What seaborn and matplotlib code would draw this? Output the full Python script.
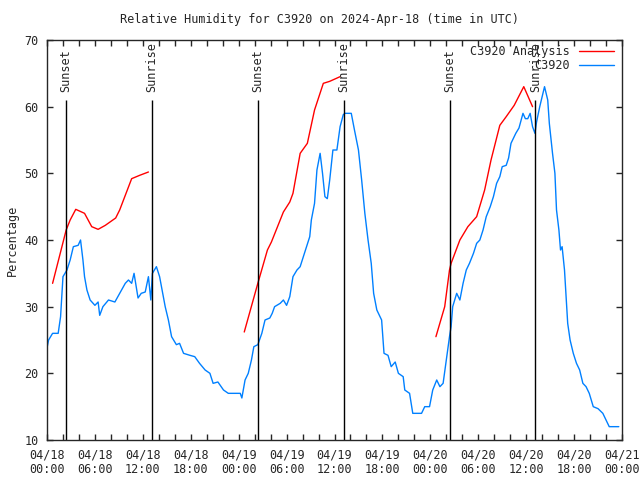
import matplotlib
matplotlib.use("Agg")
import matplotlib.pyplot as plt
import matplotlib.dates as mdates
from matplotlib.lines import Line2D
import seaborn as sns
import numpy as np
import pandas as pd

# hours since 2024-04-18 00:00 UTC and relative humidity (%)
obs_hours = [0.0, 0.2, 0.7, 1.4, 1.7, 2.0, 2.5, 2.9, 3.3, 3.9, 4.2, 4.5, 4.7, 5.0, 5.4, 6.0,
             6.4, 6.6, 7.0, 7.7, 8.5, 9.1, 9.8, 10.2, 10.6, 10.9, 11.4, 11.8, 12.3, 12.7,
             13.0, 13.2, 13.7, 14.1, 14.8, 15.2, 15.6, 16.2, 16.6, 17.1, 17.9, 18.5, 19.1,
             19.8, 20.4, 20.8, 21.4, 22.1, 22.7, 24.2, 24.4, 24.8, 25.2, 25.6, 25.9, 26.4,
             26.9, 27.3, 27.9, 28.2, 28.5, 29.2, 29.6, 30.0, 30.4, 30.8, 31.3, 31.7, 32.1,
             32.5, 32.9, 33.1, 33.5, 33.8, 34.2, 34.5, 34.8, 35.1, 35.4, 35.8, 36.3, 36.7,
             37.1, 37.3, 38.1, 38.5, 39.0, 39.4, 39.8, 40.2, 40.6, 40.9, 41.3, 41.9, 42.2,
             42.7, 43.1, 43.6, 44.0, 44.6, 44.8, 45.4, 45.8, 46.9, 47.3, 47.9, 48.3, 48.8,
             49.2, 49.6, 50.0, 50.4, 50.6, 50.8, 51.3, 51.7, 52.1, 52.5, 52.9, 53.4, 53.8,
             54.2, 54.6, 55.0, 55.5, 55.9, 56.3, 56.7, 57.0, 57.5, 57.8, 58.1, 58.7, 59.1,
             59.6, 59.9, 60.2, 60.5, 60.8, 61.1, 61.3, 61.7, 62.0, 62.3, 62.7, 62.9, 63.3,
             63.6, 63.8, 64.1, 64.3, 64.5, 64.8, 65.0, 65.2, 65.5, 65.9, 66.3, 66.7, 67.1,
             67.5, 67.9, 68.4, 69.0, 69.6, 70.0, 70.4, 71.6]
obs_rh = [23.8, 25.0, 26.0, 26.0, 28.5, 34.5, 35.5, 37.0, 39.0, 39.2, 40.0, 37.0, 34.5, 32.5,
          31.0, 30.2, 30.7, 28.7, 30.0, 31.0, 30.7, 32.0, 33.5, 34.0, 33.5, 35.0, 31.3, 32.0,
          32.2, 34.5, 31.0, 35.0, 36.0, 34.5, 30.0, 28.0, 25.5, 24.3, 24.5, 23.0, 22.7, 22.5,
          21.5, 20.5, 20.0, 18.5, 18.7, 17.5, 17.0, 17.0, 16.3, 19.0, 20.0, 22.0, 24.0, 24.3,
          26.0, 28.0, 28.3, 29.0, 30.0, 30.5, 31.0, 30.2, 31.5, 34.5, 35.5, 36.0, 37.5, 39.0,
          40.5, 43.0, 45.5, 50.5, 53.0, 50.0, 46.5, 46.2, 49.0, 53.5, 53.5, 57.0, 58.8, 59.0,
          59.0, 56.5, 53.5, 49.0, 44.0, 40.0, 36.5, 32.0, 29.5, 28.0, 23.0, 22.7, 21.0, 21.7,
          20.0, 19.5, 17.5, 17.0, 14.0, 14.0, 15.0, 15.0, 17.5, 19.0, 18.0, 18.5, 22.0, 25.5,
          27.0, 30.0, 32.0, 31.0, 33.5, 35.5, 36.5, 38.0, 39.5, 40.0, 41.5, 43.5, 45.0, 46.5,
          48.5, 49.5, 51.0, 51.2, 52.3, 54.5, 56.0, 56.8, 59.0, 58.2, 58.2, 59.0, 57.0, 56.0,
          57.7, 60.0, 61.5, 63.0, 61.0, 57.5, 53.0, 50.0, 44.5, 41.5, 38.5, 39.0, 35.5, 31.5,
          27.5, 25.0, 23.0, 21.5, 20.5, 18.5, 18.0, 17.0, 15.0, 14.7, 14.0, 13.0, 12.0, 12.0]

# analysis, one segment per day
ana_seg = [0] * 13 + [1] * 13 + [2] * 14
ana_hours = [0.7, 2.4, 2.9, 3.6, 4.7, 5.6, 6.4, 7.3, 8.6, 9.1, 10.6, 11.6, 12.7,
             24.7, 26.4, 27.6, 28.1, 29.6, 30.4, 30.8, 31.7, 32.6, 33.5, 34.6, 35.4, 36.7,
             48.7, 49.8, 50.4, 50.6, 51.7, 52.7, 53.8, 54.8, 55.6, 56.7, 57.5, 58.5, 59.7, 60.8]
ana_rh = [33.5, 41.5, 43.0, 44.6, 44.0, 42.0, 41.6, 42.2, 43.3, 44.5, 49.2, 49.7, 50.2,
          26.2, 33.5, 38.5, 39.7, 44.2, 45.7, 47.0, 53.0, 54.5, 59.5, 63.5, 63.8, 64.5,
          25.5, 30.0, 35.5, 36.5, 40.0, 42.0, 43.5, 47.5, 52.0, 57.2, 58.5, 60.2, 63.0, 60.0]

sun_hours = [2.38, 13.17, 26.42, 37.17, 50.45, 61.15]
sun_labels = ["Sunset", "Sunrise", "Sunset", "Sunrise", "Sunset", "Sunrise"]

t0 = pd.Timestamp("2024-04-18 00:00")
obs = pd.DataFrame({"time": t0 + pd.to_timedelta(obs_hours, unit="h"), "rh": obs_rh})
ana = pd.DataFrame({"time": t0 + pd.to_timedelta(ana_hours, unit="h"), "rh": ana_rh,
                    "seg": ana_seg})

sns.set_style("ticks")
plt.rcParams["font.family"] = ["DejaVu Sans Mono"]
plt.rcParams["font.size"] = 8.5

red = "#ff0000"
blue = "#0080ff"

fig, ax = plt.subplots(figsize=(6.4, 4.8), dpi=100)
fig.subplots_adjust(left=47/640, right=622/640, bottom=40/480, top=440/480)

sns.lineplot(data=ana, x="time", y="rh", units="seg", estimator=None, color=red,
             lw=1, ax=ax, legend=False)
sns.lineplot(data=obs, x="time", y="rh", color=blue, lw=1, ax=ax, legend=False)

for h, lab in zip(sun_hours, sun_labels):
    t = t0 + pd.Timedelta(hours=h)
    ax.vlines(t, 10, 61, color="black", lw=1)
    ax.text(t, 62.2, lab, rotation=90, ha="center", va="bottom", fontsize=8.5)

ax.set_xlim(t0, t0 + pd.Timedelta(hours=72))
ax.set_ylim(10, 70)
ax.set_yticks(range(10, 71, 10))
ax.xaxis.set_major_locator(mdates.HourLocator(byhour=range(0, 24, 6)))
ax.xaxis.set_minor_locator(mdates.HourLocator(byhour=range(0, 24, 2)))
ax.xaxis.set_major_formatter(mdates.DateFormatter("%m/%d\n%H:%M"))
ax.tick_params(which="both", direction="in", top=True, right=True, length=4, width=1)
ax.tick_params(which="major", labelsize=8.5, pad=6)
for s in ax.spines.values():
    s.set_linewidth(1)
    s.set_visible(True)

ax.set_xlabel("")
ax.set_ylabel("")
fig.text(12/640, 0.5, "Percentage", rotation=90, ha="center", va="center", fontsize=8.5)

handles = [Line2D([], [], color=red, lw=1), Line2D([], [], color=blue, lw=1)]
ax.legend(handles, ["C3920 Analysis", "C3920"], loc="upper right", frameon=False,
          markerfirst=False, handlelength=3, borderaxespad=0.0, labelspacing=0.1,
          fontsize=8.5, bbox_to_anchor=(0.995, 1.0))

fig.text(0.5, 1 - 19/480, "Relative Humidity for C3920 on 2024-Apr-18 (time in UTC)",
         ha="center", va="center", fontsize=8.5)

fig.savefig("out.png", dpi=100)
